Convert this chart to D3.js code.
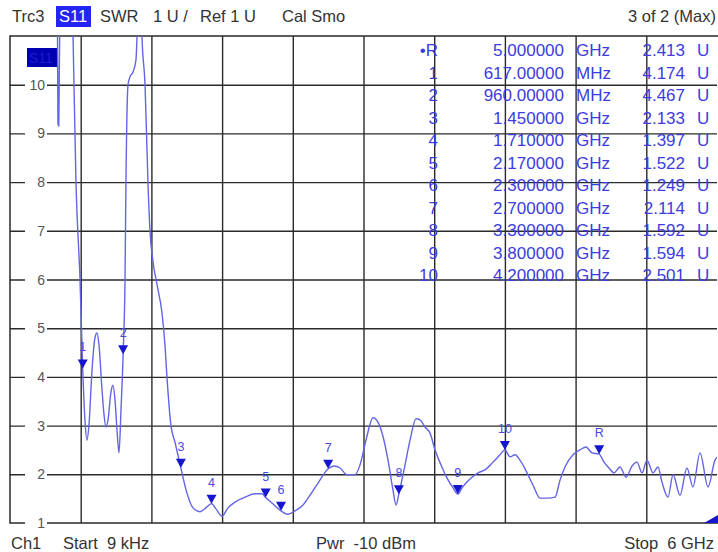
<!DOCTYPE html>
<html>
<head>
<meta charset="utf-8">
<script src="https://cdn.jsdelivr.net/npm/d3@7"></script>
<style>
body { margin: 0; background: #fff; }
svg { display: block; font-family: "Liberation Sans", Arial, sans-serif; }
</style>
</head>
<body>
<svg width="718" height="552"></svg>
<script>
// trace (GHz, SWR)
var freqGHz = [0.000009, 0.2, 0.382, 0.399, 0.407, 0.414, 0.429, 0.5, 0.535, 0.560, 0.594, 0.617,
  0.636, 0.653, 0.670, 0.696, 0.721, 0.738, 0.755, 0.781, 0.798, 0.815, 0.832, 0.857, 0.874, 0.891,
  0.908, 0.925, 0.942, 0.960, 0.976, 0.984, 1.001, 1.018, 1.044, 1.069, 1.078, 1.095, 1.112, 1.120,
  1.146, 1.171, 1.188, 1.214, 1.248, 1.290, 1.315, 1.332, 1.366, 1.400, 1.450, 1.494, 1.553, 1.612,
  1.672, 1.710, 1.748, 1.799, 1.850, 1.909, 1.994, 2.079, 2.139, 2.170, 2.223, 2.300, 2.351, 2.419,
  2.487, 2.546, 2.614, 2.700, 2.750, 2.801, 2.860, 2.928, 2.970, 3.021, 3.081, 3.123, 3.166, 3.208,
  3.250, 3.276, 3.300, 3.344, 3.395, 3.446, 3.480, 3.522, 3.564, 3.607, 3.658, 3.709, 3.760, 3.800,
  3.836, 3.878, 3.921, 3.972, 4.031, 4.099, 4.158, 4.200, 4.243, 4.286, 4.328, 4.388, 4.438, 4.498,
  4.566, 4.625, 4.668, 4.710, 4.778, 4.837, 4.888, 4.939, 5.000, 5.041, 5.083, 5.126, 5.177, 5.228,
  5.279, 5.321, 5.364, 5.406, 5.457, 5.499, 5.533, 5.584, 5.627, 5.686, 5.745, 5.796, 5.856, 5.924,
  5.983, 6.0];
var swr = [15, 16, 14, 13, 9.2, 9.15, 13, 15, 11.0, 7.98, 6.01, 4.174,
  3.12, 2.70, 3.01, 4.14, 4.80, 4.90, 4.66, 3.73, 3.22, 2.97, 3.12, 3.69, 3.83, 3.53,
  2.91, 2.44, 3.32, 4.467, 5.99, 7.98, 9.99, 10.16, 10.26, 10.51, 11.0, 12.5, 12, 11.0,
  10.0, 7.98, 7.0, 6.36, 5.89, 5.31, 4.66, 4.0, 3.0, 2.66, 2.133, 1.68, 1.31, 1.23,
  1.33, 1.397, 1.29, 1.14, 1.31, 1.43, 1.53, 1.60, 1.60, 1.522, 1.41, 1.249, 1.18, 1.25,
  1.37, 1.57, 1.82, 2.114, 2.17, 2.13, 1.99, 1.99, 2.19, 2.70, 3.16, 3.07, 2.77, 2.29,
  1.68, 1.37, 1.592, 2.09, 2.70, 3.14, 3.12, 2.97, 2.85, 2.50, 2.19, 1.92, 1.72, 1.594,
  1.72, 1.84, 1.94, 2.03, 2.09, 2.25, 2.40, 2.501, 2.36, 2.40, 2.29, 2.03, 1.78, 1.51,
  1.51, 1.53, 1.88, 2.15, 2.40, 2.50, 2.56, 2.44, 2.413, 2.25, 2.13, 2.03, 2.15, 1.94,
  2.17, 2.25, 2.03, 2.29, 2.03, 2.15, 1.84, 1.53, 1.99, 1.57, 2.13, 1.74, 2.44, 1.74,
  2.29, 2.35];

var markerNames = ["R", "1", "2", "3", "4", "5", "6", "7", "8", "9", "10"];
var markerFreq = [5.0, 0.617, 0.96, 1.45, 1.71, 2.17, 2.3, 2.7, 3.3, 3.8, 4.2];
var markerSwr = [2.413, 4.174, 4.467, 2.133, 1.397, 1.522, 1.249, 2.114, 1.592, 1.594, 2.501];
var markerFreqText = ["5.000000", "617.00000", "960.00000", "1.450000", "1.710000", "2.170000",
  "2.300000", "2.700000", "3.300000", "3.800000", "4.200000"];
var markerUnit = ["GHz", "MHz", "MHz", "GHz", "GHz", "GHz", "GHz", "GHz", "GHz", "GHz", "GHz"];

var yTicks = [1, 2, 3, 4, 5, 6, 7, 8, 9, 10];
var xGrid = [0.6, 1.2, 1.8, 2.4, 3.0, 3.6, 4.2, 4.8, 5.4];

var svg = d3.select("svg");

var plotLeft = 10, plotRight = 717, plotTop = 36, plotBottom = 523;

var x = d3.scaleLinear().domain([0, 6]).range([plotLeft, plotRight]);
var y = d3.scaleLinear().domain([1, 11]).range([plotBottom, plotTop]);

// header
var hdr = svg.append("g").attr("font-size", 16.5).attr("fill", "#333");
hdr.append("text").attr("x", 12).attr("y", 22).text("Trc3");
hdr.append("rect").attr("x", 56).attr("y", 6).attr("width", 35).attr("height", 21).attr("fill", "#2424f4");
hdr.append("text").attr("x", 59).attr("y", 22).attr("fill", "#fff").text("S11");
hdr.append("text").attr("x", 100).attr("y", 22).text("SWR");
hdr.append("text").attr("x", 153).attr("y", 22).text("1 U /");
hdr.append("text").attr("x", 200).attr("y", 22).text("Ref 1 U");
hdr.append("text").attr("x", 282).attr("y", 22).text("Cal Smo");
hdr.append("text").attr("x", 716).attr("y", 22).attr("text-anchor", "end").text("3 of 2 (Max)");

// footer
var ftr = svg.append("g").attr("font-size", 16.5).attr("fill", "#333");
ftr.append("text").attr("x", 11).attr("y", 549).text("Ch1");
ftr.append("text").attr("x", 63).attr("y", 549).attr("xml:space", "preserve").text("Start  9 kHz");
ftr.append("text").attr("x", 316).attr("y", 549).attr("xml:space", "preserve").text("Pwr  -10 dBm");
ftr.append("text").attr("x", 714).attr("y", 549).attr("text-anchor", "end").attr("xml:space", "preserve").text("Stop  6 GHz");

// grid
svg.append("g")
    .attr("class", "grid")
    .attr("transform", "translate(0," + plotBottom + ")")
    .call(d3.axisBottom(x).tickValues(xGrid).tickSize(-(plotBottom - plotTop)).tickFormat(""))
    .call(function(g) { g.select(".domain").remove(); })
    .selectAll("line").attr("stroke", "#2a2a2a").attr("stroke-width", 1.4);

svg.append("g")
    .attr("class", "grid")
    .attr("transform", "translate(" + plotLeft + ",0)")
    .call(d3.axisLeft(y).tickValues(yTicks.slice(1)).tickSize(-(plotRight - plotLeft)).tickFormat(""))
    .call(function(g) { g.select(".domain").remove(); })
    .selectAll("line").attr("stroke", "#2a2a2a").attr("stroke-width", 1.4);

svg.append("rect")
    .attr("x", plotLeft).attr("y", plotTop)
    .attr("width", plotRight - plotLeft + 2).attr("height", plotBottom - plotTop)
    .attr("fill", "none").attr("stroke", "#2a2a2a").attr("stroke-width", 1.5);

// y labels sitting on the grid lines
var yl = svg.append("g").selectAll("g").data(yTicks).enter().append("g")
    .attr("transform", function(d) { return "translate(0," + y(d) + ")"; });
yl.append("rect").attr("x", 25).attr("y", -7).attr("width", 22).attr("height", 14).attr("fill", "#fff");
yl.append("text").attr("x", 45).attr("y", 5).attr("text-anchor", "end")
    .attr("font-size", 14).attr("fill", "#555").text(function(d) { return d; });

// trace label box
svg.append("rect").attr("x", 27).attr("y", 48).attr("width", 31).attr("height", 19).attr("fill", "#0000b0");
svg.append("text").attr("x", 29).attr("y", 63).attr("font-size", 14).attr("fill", "#1c1cd0").text("S11");

// trace
svg.append("clipPath").attr("id", "clip")
  .append("rect").attr("x", plotLeft).attr("y", plotTop).attr("width", plotRight - plotLeft).attr("height", plotBottom - plotTop);

var line = d3.line()
    .x(function(d, i) { return x(freqGHz[i]); })
    .y(function(d) { return y(d); })
    .curve(d3.curveMonotoneX);

svg.append("path")
    .datum(swr)
    .attr("clip-path", "url(#clip)")
    .attr("fill", "none")
    .attr("stroke", "#6464e6")
    .attr("stroke-width", 1.4)
    .attr("d", line);

// markers
var mk = svg.append("g").selectAll("g").data(markerNames).enter().append("g")
    .attr("transform", function(d, i) { return "translate(" + x(markerFreq[i]) + "," + y(markerSwr[i]) + ")"; });
mk.append("path").attr("d", "M-5,-9L5,-9L0,0Z").attr("fill", "#1515d0");
mk.append("text").attr("y", -17).attr("text-anchor", "middle").attr("font-size", 12.5)
    .attr("fill", "#4848e0").text(function(d) { return d; });

// corner indicator
svg.append("path").attr("d", "M704,523L718,523L718,515Z").attr("fill", "#1515d0");

// marker table
var rows = svg.append("g").attr("font-size", 17).attr("fill", "#3c3ce0")
  .selectAll("g").data(markerNames).enter().append("g")
    .attr("transform", function(d, i) { return "translate(0," + (56 + 22.5 * i) + ")"; });
rows.append("text").attr("x", 438).attr("text-anchor", "end")
    .text(function(d) { return d === "R" ? "\u2022R" : d; });
rows.append("text").attr("x", 564).attr("text-anchor", "end")
    .text(function(d, i) { return markerFreqText[i]; });
rows.append("text").attr("x", 576).text(function(d, i) { return markerUnit[i]; });
rows.append("text").attr("x", 685).attr("text-anchor", "end")
    .text(function(d, i) { return markerSwr[i].toFixed(3); });
rows.append("text").attr("x", 697).text("U");
</script>
</body>
</html>
